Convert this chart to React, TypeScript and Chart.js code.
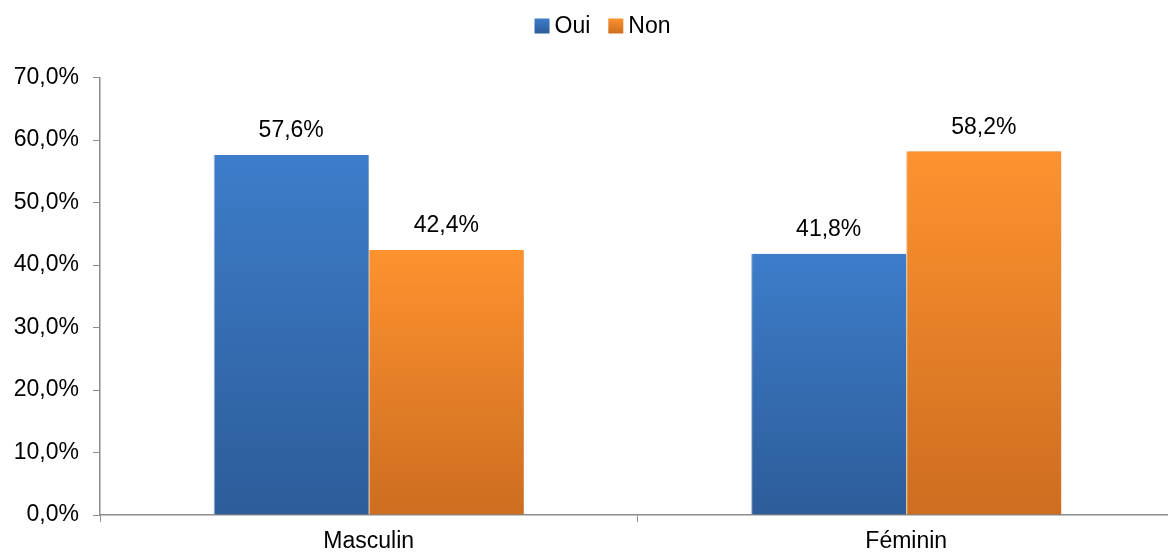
import React, { useEffect, useRef } from "react";
import { Chart, registerables } from "chart.js";

Chart.register(...registerables);

const categories = ["Masculin", "Féminin"];
const seriesNames = ["Oui", "Non"];
const ouiValues = [57.6, 41.8];
const nonValues = [42.4, 58.2];
const yTicks = [0, 10, 20, 30, 40, 50, 60, 70];

const FONT = "'Liberation Sans', Arial, sans-serif";
const fmt = (v: number) => v.toFixed(1).replace(".", ",") + "%";

const colorSets = [
  { top: "#3D7DCA", bottom: "#2D5C99", solid: "#3A76C2", border: "rgba(140,175,225,0.9)" },
  { top: "#FD922F", bottom: "#CE6D20", solid: "#F2862B", border: "rgba(252,180,110,0.95)" },
];

function gradientFor(ctx: any, idx: number) {
  const chart = ctx.chart;
  const set = colorSets[idx];
  const area = chart.chartArea;
  const yScale = chart.scales?.y;
  if (!area || !yScale || ctx.type !== "data") return set.solid;
  const v = ctx.raw as number;
  const yTop = yScale.getPixelForValue(v);
  const g = chart.ctx.createLinearGradient(0, yTop, 0, area.bottom);
  g.addColorStop(0, set.top);
  g.addColorStop(1, set.bottom);
  return g;
}

// the reference's category axis runs a few pixels past the right edge of the picture
const extendPlugin = {
  id: "extendX",
  afterLayout(chart: any) {
    const x = chart.scales.x;
    const extra = 7;
    x.right += extra;
    x.width += extra;
    x.configure();
    chart.chartArea.right += extra;
    chart.chartArea.width += extra;
  },
};

const labelPlugin = {
  id: "valueLabels",
  afterDatasetsDraw(chart: any) {
    const ctx = chart.ctx;
    ctx.save();
    ctx.font = `23px ${FONT}`;
    ctx.fillStyle = "#000";
    ctx.textAlign = "center";
    ctx.textBaseline = "middle";
    chart.data.datasets.forEach((ds: any, di: number) => {
      const meta = chart.getDatasetMeta(di);
      meta.data.forEach((bar: any, i: number) => {
        ctx.fillText(fmt(ds.data[i]), bar.x, bar.y - 24);
      });
    });
    ctx.restore();
  },
};

const shadowPlugin = {
  id: "barShadow",
  beforeDatasetsDraw(chart: any) {
    const ctx = chart.ctx;
    ctx.save();
    ctx.shadowColor = "rgba(0,0,0,0.28)";
    ctx.shadowBlur = 5;
    ctx.shadowOffsetX = 2;
    ctx.shadowOffsetY = 0;
  },
  afterDatasetsDraw(chart: any) {
    chart.ctx.restore();
  },
};

const legendPlugin = {
  id: "customLegend",
  afterDraw(chart: any) {
    const ctx = chart.ctx;
    ctx.save();
    ctx.font = `23px ${FONT}`;
    ctx.textBaseline = "middle";
    ctx.textAlign = "left";
    const box = 15;
    const gap = 5;
    const spacing = 18;
    const widths = seriesNames.map((n) => box + gap + ctx.measureText(n).width);
    const total = widths.reduce((a, b) => a + b, 0) + spacing * (seriesNames.length - 1);
    let x = 602.5 - total / 2;
    const cy = 26;
    seriesNames.forEach((n, i) => {
      const set = colorSets[i];
      const g = ctx.createLinearGradient(0, cy - box / 2, 0, cy + box / 2);
      g.addColorStop(0, set.top);
      g.addColorStop(1, set.bottom);
      ctx.fillStyle = g;
      ctx.fillRect(x, cy - box / 2, box, box);
      ctx.fillStyle = "#000";
      ctx.fillText(n, x + box + gap, cy + 1);
      x += widths[i] + spacing;
    });
    ctx.restore();
  },
};

export default function App() {
  const ref = useRef<HTMLCanvasElement>(null);
  useEffect(() => {
    if (!ref.current) return;
    const chart = new Chart(ref.current, {
      type: "bar",
      data: {
        labels: categories,
        datasets: [
          {
            label: seriesNames[0],
            data: ouiValues,
            backgroundColor: (c: any) => gradientFor(c, 0),
            borderColor: colorSets[0].border,
            borderWidth: { left: 1, right: 0, top: 0, bottom: 0 } as any,
            categoryPercentage: 0.577,
            barPercentage: 1,
          },
          {
            label: seriesNames[1],
            data: nonValues,
            backgroundColor: (c: any) => gradientFor(c, 1),
            borderColor: colorSets[1].border,
            borderWidth: { left: 1, right: 0, top: 0, bottom: 0 } as any,
            categoryPercentage: 0.577,
            barPercentage: 1,
          },
        ],
      },
      options: {
        animation: false,
        responsive: true,
        maintainAspectRatio: false,
        layout: { padding: { top: 77.5, left: 0, right: 0, bottom: 0 } },
        plugins: {
          legend: { display: false },
          tooltip: { enabled: false },
        },
        scales: {
          x: {
            offset: true,
            grid: {
              offset: true,
              drawOnChartArea: false,
              drawTicks: true,
              tickLength: 7,
              color: "#8C8C8C",
              lineWidth: 1,
            },
            border: { color: "#8C8C8C", width: 1.5 },
            ticks: {
              color: "#000",
              font: { family: FONT, size: 23 },
              padding: 6,
            },
            afterFit: (s: any) => {
              s.height = 39;
            },
          },
          y: {
            min: 0,
            max: 70,
            afterBuildTicks: (s: any) => {
              s.ticks = yTicks.map((v) => ({ value: v }));
            },
            grid: {
              drawOnChartArea: false,
              drawTicks: true,
              tickLength: 7,
              color: "#8C8C8C",
            },
            border: { color: "#8C8C8C", width: 1.5 },
            ticks: {
              color: "#000",
              font: { family: FONT, size: 23 },
              padding: 14,
              callback: (v: any) => fmt(Number(v)),
            },
            afterFit: (s: any) => {
              s.width = 100;
            },
          },
        },
      },
      plugins: [extendPlugin, shadowPlugin, labelPlugin, legendPlugin],
    });
    return () => chart.destroy();
  }, []);
  return (
    <div style={{ position: "absolute", left: 0, top: 0, width: 1168, height: 554, background: "#fff" }}>
      <canvas ref={ref} />
    </div>
  );
}
